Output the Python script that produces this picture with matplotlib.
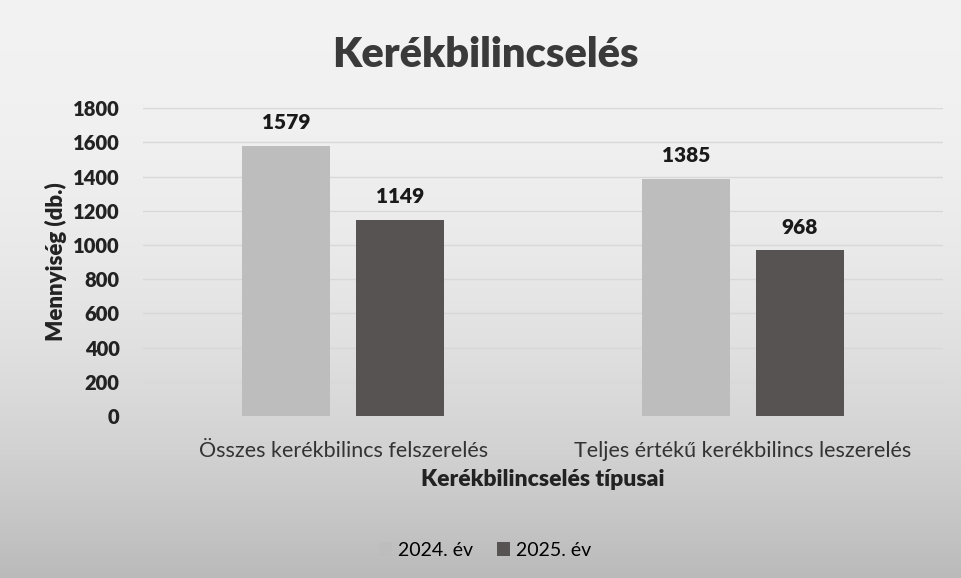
import matplotlib.pyplot as plt
import numpy as np

categories = ["Összes kerékbilincs felszerelés", "Teljes értékű kerékbilincs leszerelés"]
series_names = ["2024. év", "2025. év"]
values_2024 = [1579, 1385]
values_2025 = [1149, 968]
yticks = [0, 200, 400, 600, 800, 1000, 1200, 1400, 1600, 1800]

plt.rcParams['font.family'] = ['Lato', 'DejaVu Sans']

fig = plt.figure(figsize=(9.61, 5.78), dpi=100)

# photo-like background: light at top, darker grey at bottom
bg = fig.add_axes([0, 0, 1, 1], zorder=-10)
grad = np.linspace(0, 1, 256).reshape(-1, 1)
shade = 0.95 - 0.22 * grad ** 2.2
bg.imshow(np.dstack([shade, shade, shade]), aspect='auto', extent=[0, 1, 0, 1], origin='upper')
bg.axis('off')

ax = fig.add_axes([0.149, 0.280, 0.832, 0.533])
ax.set_facecolor('none')

x = np.arange(len(categories))
w = 0.22
off = 0.1425
b1 = ax.bar(x - off, values_2024, w, color='#bdbdbd', label=series_names[0], zorder=3)
b2 = ax.bar(x + off, values_2025, w, color='#575353', label=series_names[1], zorder=3)

for bars in (b1, b2):
    for r in bars:
        ax.text(r.get_x() + r.get_width() / 2, r.get_height() + 80, f"{int(r.get_height())}",
                ha='center', va='bottom', fontsize=15, fontweight='heavy', color='#1a1a1a')

ax.set_xlim(-0.5, 1.5)
ax.set_ylim(0, 1800)
ax.set_yticks(yticks)
ax.set_yticklabels([str(t) for t in yticks], fontsize=14.5, fontweight='heavy', color='#222222')
ax.set_xticks(x)
ax.set_xticklabels(categories, fontsize=15.5, color='#333333')
ax.tick_params(axis='both', length=0)
ax.tick_params(axis='y', pad=17)
ax.tick_params(axis='x', pad=18)
ax.grid(axis='y', color='#d8d8d8', linewidth=1, zorder=0)
for s in ax.spines.values():
    s.set_visible(False)

ax.set_xlabel("Kerékbilincselés típusai", fontsize=16.5, fontweight='heavy', color='#222222', labelpad=6)
ax.set_ylabel("Mennyiség (db.)", fontsize=16, fontweight='heavy', color='#222222', labelpad=4)

fig.text(0.505, 0.905, "Kerékbilincselés", ha='center', va='center', fontsize=30,
         fontweight='heavy', color='#3a3a3a')

ax.legend(loc='center', bbox_to_anchor=(0.4275, -0.435), ncol=2, frameon=False,
          fontsize=14, handlelength=0.7, handleheight=0.7, handletextpad=0.3, columnspacing=1.2)

fig.savefig('out.png', dpi=100)
